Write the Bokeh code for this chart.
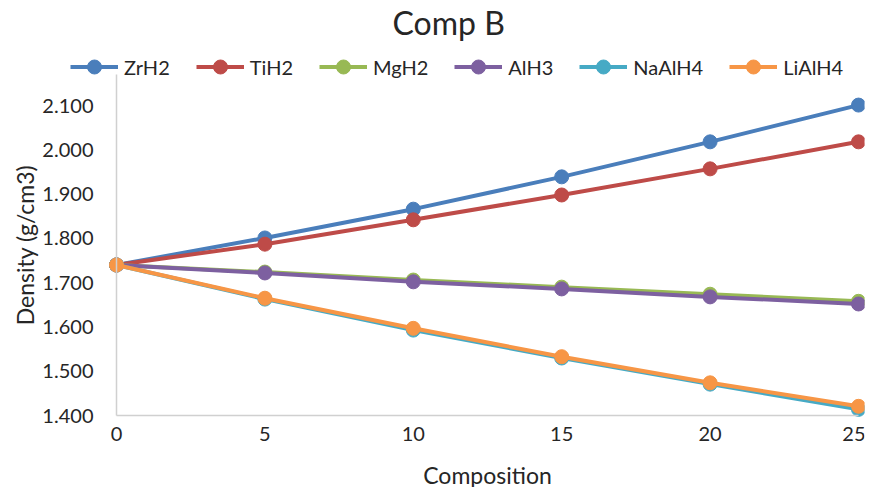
from bokeh.plotting import figure
from bokeh.models import Range1d, Legend, LegendItem, FixedTicker, NumeralTickFormatter
from bokeh.embed import file_html
from bokeh.resources import INLINE

composition = [0, 5, 10, 15, 20, 25]
zrh2 = [1.740, 1.801, 1.866, 1.939, 2.018, 2.101]
tih2 = [1.740, 1.787, 1.842, 1.898, 1.957, 2.018]
mgh2 = [1.740, 1.724, 1.706, 1.690, 1.674, 1.658]
alh3 = [1.740, 1.722, 1.702, 1.686, 1.668, 1.652]
naalh4 = [1.740, 1.663, 1.593, 1.530, 1.471, 1.414]
lialh4 = [1.740, 1.665, 1.597, 1.533, 1.474, 1.421]
y_ticks = [1.4, 1.5, 1.6, 1.7, 1.8, 1.9, 2.0, 2.1]

series = [
    ("ZrH2", zrh2, "#4A7EBB"),
    ("TiH2", tih2, "#BE4B48"),
    ("MgH2", mgh2, "#98B954"),
    ("AlH3", alh3, "#7D60A0"),
    ("NaAlH4", naalh4, "#46AAC5"),
    ("LiAlH4", lialh4, "#F79646"),
]

FONT = "Lato"
TXT = "#262626"
AXIS = "#D0D0D0"

p = figure(width=865, height=487, output_backend="svg", toolbar_location=None,
           x_range=Range1d(-3.908, 25.202), y_range=Range1d(1.2377, 2.2445),
           min_border_left=0, min_border_right=1, min_border_top=41, min_border_bottom=0)

p.title.text = "Comp B"
p.title.align = "left"
p.title.text_font = FONT
p.title.text_font_size = "32px"
p.title.text_font_style = "normal"
p.title.text_color = TXT
p.title.offset = 392
p.title.standoff = 0

p.xgrid.visible = False
p.ygrid.visible = False
p.outline_line_color = None

for ax in (p.xaxis[0], p.yaxis[0]):
    ax.axis_line_color = AXIS
    ax.axis_line_width = 1.5
    ax.major_tick_line_color = None
    ax.minor_tick_line_color = None
    ax.major_tick_out = 0
    ax.major_tick_in = 0
    ax.minor_tick_out = 0
    ax.minor_tick_in = 0
    ax.major_label_text_font = FONT
    ax.major_label_text_font_size = "20px"
    ax.major_label_text_color = TXT
    ax.axis_label_text_font = FONT
    ax.axis_label_text_font_size = "23px"
    ax.axis_label_text_font_style = "normal"
    ax.axis_label_text_color = TXT

p.xaxis.ticker = FixedTicker(ticks=composition)
p.xaxis.bounds = (0, 25)
p.xaxis.fixed_location = 1.4
p.yaxis.ticker = FixedTicker(ticks=y_ticks)
p.yaxis.formatter = NumeralTickFormatter(format="0.000")
p.yaxis.fixed_location = 0
p.yaxis.bounds = (1.4, 2.17)
p.xaxis.axis_label = "Composition"
p.yaxis.axis_label = "Density (g/cm3)"
p.yaxis.major_label_standoff = 23
p.xaxis.major_label_standoff = 11
p.yaxis.axis_label_standoff = 0
p.xaxis.axis_label_standoff = 17

items = []
for name, vals, col in series:
    l = p.line(composition, vals, line_color=col, line_width=4)
    s = p.scatter(composition, vals, size=14, fill_color=col, line_color=col)
    items.append(LegendItem(label=name, renderers=[l, s]))

legend = Legend(items=items, orientation="horizontal", location=(70, 403),
                glyph_width=48, glyph_height=35, label_standoff=6, spacing=26,
                label_text_font=FONT, label_text_font_size="20px", label_text_color=TXT,
                background_fill_alpha=0, border_line_color=None, padding=0, margin=0)
p.add_layout(legend, "center")

open("out.html", "w").write(file_html(p, INLINE))
